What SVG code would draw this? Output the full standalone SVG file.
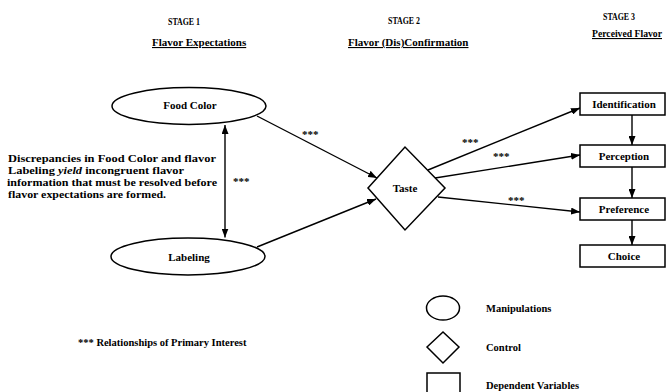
<svg xmlns="http://www.w3.org/2000/svg" width="670" height="392" viewBox="0 0 670 392">
<defs>
<style>
text{font-family:"Liberation Serif","Times New Roman",serif;font-weight:bold;fill:#000}
.stage{font-size:11px}
.sub{font-size:11px;text-decoration:underline}
.node{font-size:11px;text-anchor:middle}
.para{font-size:10.5px}
.ast{font-size:11px}
.leg{font-size:10.5px}
.shape{fill:#fff;stroke:#000;stroke-width:1.5}
.conn line{stroke:#000;stroke-width:1.4;fill:none}
</style>
<marker id="ah" viewBox="0 0 9 7" refX="9" refY="3.5" markerWidth="9" markerHeight="7" markerUnits="userSpaceOnUse" orient="auto-start-reverse">
<path d="M0,0 L9,3.5 L0,7 z" fill="#000"/>
</marker>
</defs>
<rect width="670" height="392" fill="#fff"/>

<g id="headers">
<text class="stage" x="168" y="25" textLength="32" lengthAdjust="spacingAndGlyphs">STAGE 1</text>
<text class="sub" x="152" y="46">Flavor Expectations</text>
<text class="stage" x="388" y="24" textLength="32" lengthAdjust="spacingAndGlyphs">STAGE 2</text>
<text class="sub" x="348" y="46">Flavor (Dis)Confirmation</text>
<text class="stage" x="603" y="20" textLength="32" lengthAdjust="spacingAndGlyphs">STAGE 3</text>
<text class="sub" x="592" y="37" textLength="70" lengthAdjust="spacingAndGlyphs">Perceived Flavor</text>
</g>

<g id="connectors" class="conn">
<line x1="257" y1="116" x2="377" y2="178" marker-end="url(#ah)"/>
<line x1="257" y1="247" x2="376" y2="199" marker-end="url(#ah)"/>
<line x1="225" y1="125" x2="225" y2="237.5" marker-start="url(#ah)" marker-end="url(#ah)"/>
<line x1="428" y1="170" x2="580" y2="108" marker-end="url(#ah)"/>
<line x1="435" y1="178" x2="580" y2="155" marker-end="url(#ah)"/>
<line x1="438" y1="197" x2="580" y2="212" marker-end="url(#ah)"/>
<line x1="632" y1="115" x2="632" y2="145" marker-end="url(#ah)"/>
<line x1="632" y1="167" x2="632" y2="198" marker-end="url(#ah)"/>
<line x1="632" y1="220" x2="632" y2="245" marker-end="url(#ah)"/>
</g>

<g id="connector-labels">
<text class="ast" x="302" y="138">***</text>
<text class="ast" x="233" y="185">***</text>
<text class="ast" x="462" y="146">***</text>
<text class="ast" x="493" y="160">***</text>
<text class="ast" x="508" y="204">***</text>
</g>

<g id="food-color">
<ellipse class="shape" cx="189" cy="106" rx="77" ry="18.5"/>
<text class="node" x="190" y="109">Food Color</text>
</g>

<g id="labeling">
<ellipse class="shape" cx="188" cy="256.5" rx="77" ry="18.5"/>
<text class="node" x="189" y="261">Labeling</text>
</g>

<g id="note">
<text class="para" x="8" y="162" textLength="208" lengthAdjust="spacingAndGlyphs">Discrepancies in Food Color and flavor</text>
<text class="para" x="8" y="174" textLength="176" lengthAdjust="spacingAndGlyphs">Labeling <tspan font-style="italic">yield</tspan> incongruent flavor</text>
<text class="para" x="7" y="186" textLength="210" lengthAdjust="spacingAndGlyphs">information that must be resolved before</text>
<text class="para" x="8" y="198" textLength="158" lengthAdjust="spacingAndGlyphs">flavor expectations are formed.</text>
</g>

<g id="taste">
<polygon class="shape" points="368,188 405,147 445,188 405,230"/>
<text class="node" x="405" y="192">Taste</text>
</g>

<g id="identification">
<rect class="shape" x="580" y="93" width="85" height="22"/>
<text class="node" x="624" y="108">Identification</text>
</g>

<g id="perception">
<rect class="shape" x="580" y="145" width="85" height="22"/>
<text class="node" x="624" y="160">Perception</text>
</g>

<g id="preference">
<rect class="shape" x="580" y="198" width="85" height="22"/>
<text class="node" x="624" y="213">Preference</text>
</g>

<g id="choice">
<rect class="shape" x="580" y="245" width="85" height="22"/>
<text class="node" x="624" y="260">Choice</text>
</g>

<g id="legend">
<text class="leg" x="78" y="346">*** Relationships of Primary Interest</text>
<ellipse class="shape" cx="443" cy="308" rx="16.5" ry="12"/>
<text class="leg" x="486" y="312">Manipulations</text>
<polygon class="shape" points="427,347 443,332 459,347 443,363"/>
<text class="leg" x="486" y="351">Control</text>
<rect class="shape" x="427" y="373" width="33" height="30"/>
<text class="leg" x="486" y="389">Dependent Variables</text>
</g>
</svg>
